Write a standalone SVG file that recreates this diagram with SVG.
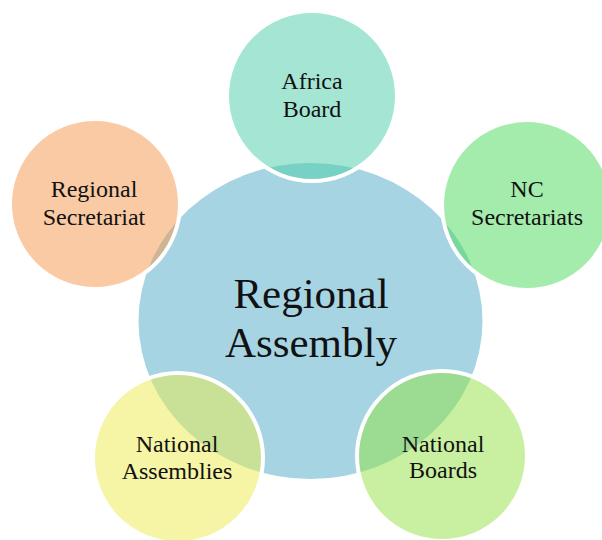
<svg xmlns="http://www.w3.org/2000/svg" width="602" height="540" viewBox="0 0 602 540">
<style>
.sat{stroke:#fff;stroke-width:4;fill-opacity:0.5}
text{font-family:"Liberation Serif","Times New Roman",serif;fill:#111;text-anchor:middle}
.s{font-size:24px}
.c{font-size:43px}
</style>
<rect width="602" height="540" fill="#fff"/>
<g id="connectors"></g>
<g id="regional-assembly">
<ellipse cx="310.5" cy="321" rx="172" ry="158" fill="#A6D4E3"/>
<text class="c" x="311" y="308">Regional</text>
<text class="c" x="311" y="357">Assembly</text>
</g>
<g id="africa-board">
<circle class="sat" cx="312" cy="96" r="85" fill="#49CDA7"/>
<text class="s" x="312" y="89">Africa</text>
<text class="s" x="312" y="117">Board</text>
</g>
<g id="nc-secretariats">
<circle class="sat" cx="527" cy="205" r="85" fill="#49D959"/>
<text class="s" x="527" y="197">NC</text>
<text class="s" x="527" y="225">Secretariats</text>
</g>
<g id="regional-secretariat">
<circle class="sat" cx="95" cy="204" r="85" fill="#F59549"/>
<text class="s" x="94" y="197">Regional</text>
<text class="s" x="94" y="225">Secretariat</text>
</g>
<g id="national-assemblies">
<circle class="sat" cx="178" cy="458" r="85" fill="#EBEB4B"/>
<text class="s" x="177" y="452">National</text>
<text class="s" x="177" y="479">Assemblies</text>
</g>
<g id="national-boards">
<circle class="sat" cx="442" cy="456" r="85" fill="#91E141"/>
<text class="s" x="443" y="452">National</text>
<text class="s" x="443" y="478">Boards</text>
</g>
</svg>
